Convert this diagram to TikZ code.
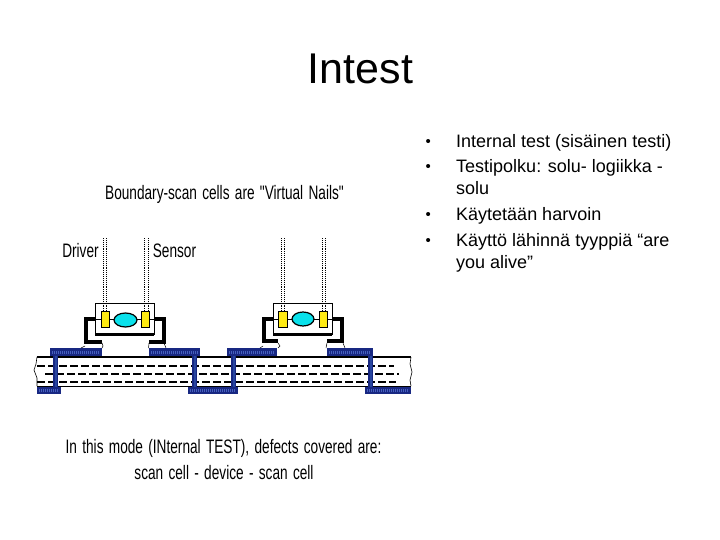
\documentclass[tikz,border=0pt]{standalone}
\usepackage{fontspec}
\setmainfont{Liberation Sans}
\newfontfamily\capfont{Liberation Sans}
\newcommand{\capstyle}[1]{{\capfont\fontsize{19.5}{22}\selectfont\spaceskip=0.39em\relax #1}}
\definecolor{padblue}{RGB}{24,40,130}
\definecolor{padhatch}{RGB}{70,95,190}
\definecolor{viablue}{RGB}{40,70,160}
\definecolor{cellyellow}{RGB}{255,235,20}
\definecolor{corecyan}{RGB}{10,225,235}
\tikzset{
  x=1pt,y=-1pt,
  body/.style={anchor=base west,inner sep=0pt,font=\fontsize{18}{20}\selectfont},
  bul/.style={anchor=base west,inner sep=0pt,font=\fontsize{15}{20}\selectfont},
  thin text/.style={inner sep=0pt,transform shape,xscale=0.70,anchor=base},
  lead/.style={line width=4pt,line cap=butt,line join=miter},
  probe/.style={densely dotted,line width=0.9pt},
  trace/.style={dash pattern=on 8pt off 3pt,line width=1.2pt},
  cellbox/.style={draw=black,fill=cellyellow,line width=0.9pt,minimum width=8pt,minimum height=16pt,inner sep=0pt},
  hatch/.style={draw=padhatch,line width=2.5pt,dash pattern=on 1pt off 1pt}
}
\begin{document}
\begin{tikzpicture}
\useasboundingbox (0,0) rectangle (720,540);
\fill[white] (0,0) rectangle (720,540);
\node[anchor=base,inner sep=0pt,font=\fontsize{43}{48}\selectfont] (title) at (360.5,84) {Intest};
% bullets
\foreach \n/\y in {a/147,b/172,c/220,d/245}{\node[bul] (b\n) at (425.5,\y) {•};}
\node[body] (t1) at (456,148) {Internal test (sisäinen testi)};
\node[body] (t2) at (456,173) {Testipolku: solu- logiikka -};
\node[body] (t2b) at (456,195) {solu};
\node[body] (t3) at (456,221) {Käytetään harvoin};
\node[body] (t4) at (456,246) {Käyttö lähinnä tyyppiä “are};
\node[body] (t4b) at (456,268) {you alive”};
% captions
\node[thin text] (cap) at (224.5,200) {\capstyle{Boundary-scan cells are "Virtual Nails"}};
\node[thin text] (drv) at (80.5,258) {\capstyle{Driver}};
\node[thin text] (sen) at (174.5,258) {\capstyle{Sensor}};
\node[thin text] (l1) at (223.5,453) {\capstyle{In this mode (INternal TEST), defects covered are:}};
\node[thin text] (l2) at (224,479) {\capstyle{scan cell - device - scan cell}};
% board
\draw[line width=1.2pt] (37,357) -- (411,357);
\draw[line width=0.9pt] (37,386) -- (411,386);
\draw[line width=0.6pt] (37,357) -- (36,364) -- (34,370) -- (37,378) -- (37,386);
\draw[line width=0.6pt] (411,357) -- (410,364) -- (412,372) -- (410,380) -- (411,386);
\draw[trace] (37,366) -- (394,366);
\draw[trace] (45,374) -- (399,374);
\draw[trace] (37,382) -- (396,382);
% pads
\foreach \a/\b in {50/102,149/200,227/277,327/373}{
  \fill[padblue] (\a,348) rectangle (\b,356);
  \draw[hatch] (\a+2,352.5) -- (\b-2,352.5);}
\foreach \a/\b in {37/61,188/238,365/411}{
  \fill[padblue] (\a,387) rectangle (\b,394);
  \draw[hatch] (\a+2,390.5) -- (\b-2,390.5);}
\foreach \a in {53,192,231,368}{
  \fill[padblue] (\a,356) rectangle (\a+5,387);
  \fill[viablue] (\a+1.5,356) rectangle (\a+3.5,387);}
% chip 1
\draw[lead] (95,319) -- (86,319) -- (86,341.5) -- (102,341.5);
\draw[lead] (154,319) -- (164,319) -- (164,341.5) -- (149,341.5);
\draw[line width=0.5pt] (102,343) -- (103,346) -- (102,348) (85,346) -- (81,348) (149,343) -- (148.5,348) (164,343) -- (166,348);
\draw[line width=0.9pt] (95,303.5) rectangle (154,334);
\draw[line width=3pt] (95,334.5) -- (154,334.5);
\draw[line width=0.8pt] (95,319) -- (101,319) (109,319) -- (114,319) (137,319) -- (141,319) (150,319) -- (154,319);
\node[cellbox] (c1a) at (105,319) {};
\node[cellbox,minimum width=8.5pt] (c1b) at (145.5,319) {};
\draw[line width=1.2pt,fill=corecyan] (125.5,320) ellipse [x radius=11.5,y radius=7];
\draw[probe] (103.3,238) -- (103.3,311) (106.7,238) -- (106.7,311);
\draw[probe] (144,238) -- (144,311) (148,238) -- (148,311);
% chip 2
\draw[lead] (273,319) -- (264,319) -- (264,341) -- (278,341);
\draw[lead] (332,319) -- (342,319) -- (342,341) -- (327,341);
\draw[line width=0.5pt] (278,343) -- (280,346) -- (278,348) (263,346) -- (260,348) (327,343) -- (326,348) (343,343) -- (345,348);
\draw[line width=0.9pt] (273,303.5) rectangle (332,334);
\draw[line width=3pt] (273,334.5) -- (332,334.5);
\draw[line width=0.8pt] (273,319) -- (278,319) (288,319) -- (292,319) (314,319) -- (319,319) (327,319) -- (332,319);
\node[cellbox,minimum width=9pt] (c2a) at (283,319) {};
\node[cellbox] (c2b) at (323,319) {};
\draw[line width=1.2pt,fill=corecyan] (303,319) ellipse [x radius=11,y radius=7];
\draw[probe] (281,238) -- (281,311) (284,238) -- (284,311);
\draw[probe] (322,238) -- (322,311) (325,238) -- (325,311);
\end{tikzpicture}
\end{document}
